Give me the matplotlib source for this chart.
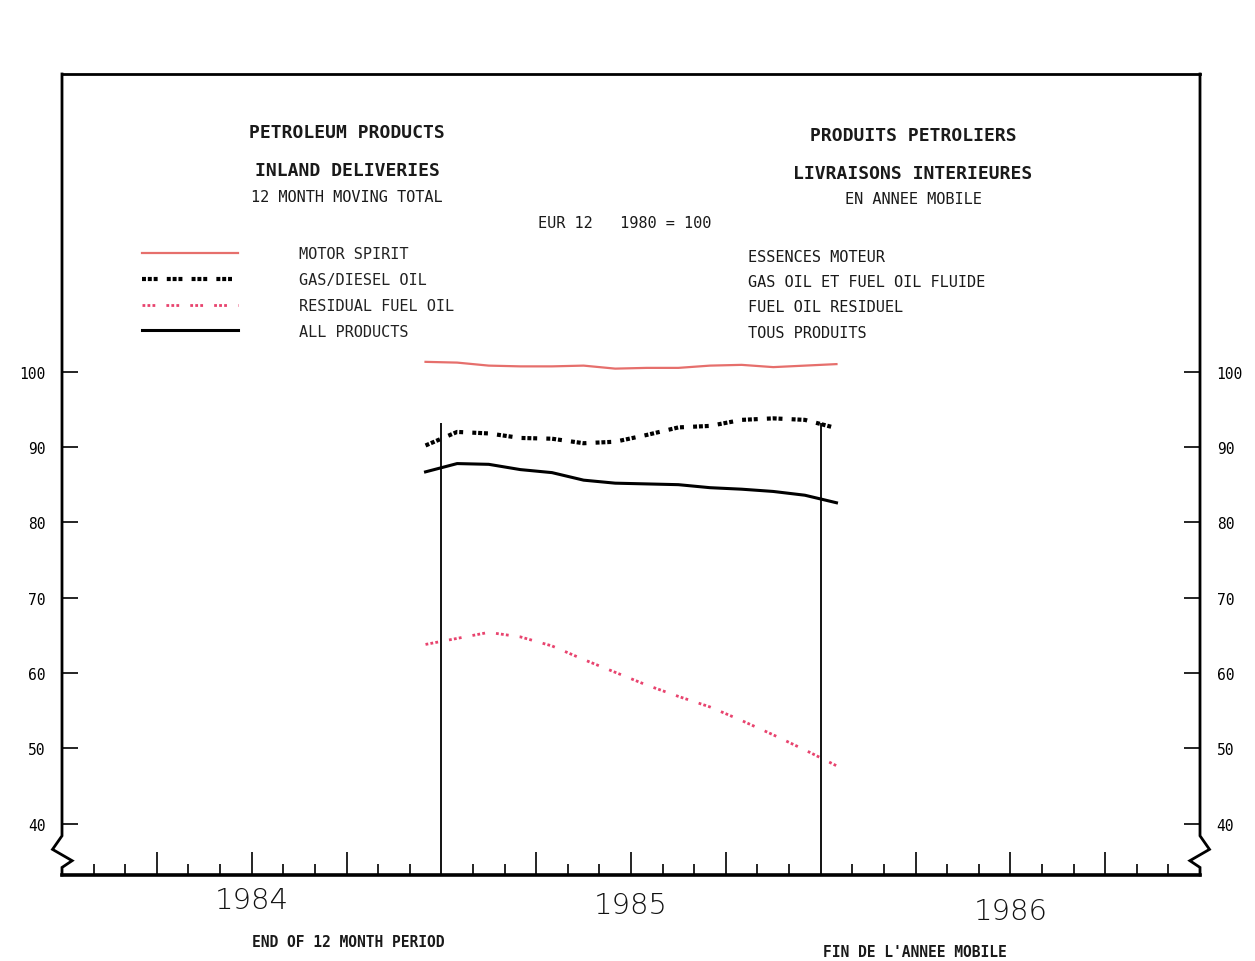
import matplotlib
matplotlib.use("Agg")
import matplotlib.pyplot as plt
import matplotlib.transforms as mtransforms
import numpy as np

# months counted from January 1984 (0 = start of 1984), points sit mid-month
months = np.arange(11.5, 25.5, 1.0)

motor_spirit = [101.3, 101.2, 100.8, 100.7, 100.7, 100.8, 100.4,
                100.5, 100.5, 100.8, 100.9, 100.6, 100.8, 101.0]
gas_diesel = [90.2, 92.0, 91.8, 91.2, 91.1, 90.5, 90.7,
              91.6, 92.6, 92.8, 93.6, 93.8, 93.6, 92.5]
residual = [63.8, 64.6, 65.4, 64.8, 63.6, 61.8, 60.1,
            58.4, 56.9, 55.5, 53.7, 51.8, 49.8, 47.7]
all_products = [86.7, 87.8, 87.7, 87.0, 86.6, 85.6, 85.2,
                85.1, 85.0, 84.6, 84.4, 84.1, 83.6, 82.6]

labels_en = ["MOTOR SPIRIT", "GAS/DIESEL OIL", "RESIDUAL FUEL OIL", "ALL PRODUCTS"]
labels_fr = ["ESSENCES MOTEUR", "GAS OIL ET FUEL OIL FLUIDE",
             "FUEL OIL RESIDUEL", "TOUS PRODUITS"]
years = ["1984", "1985", "1986"]
y_ticks = [40, 50, 60, 70, 80, 90, 100]

MONO = "DejaVu Sans Mono"
W, H = 1255, 962

fig = plt.figure(figsize=(W / 100, H / 100), dpi=100)
fig.patch.set_facecolor("white")
ax = fig.add_axes([62 / W, 1 - 876 / H, 1138 / W, 801 / H])
ymin, ymax = 33.2, 139.5
ax.set_xlim(0, 36)
ax.set_ylim(ymin, ymax)
ax.set_facecolor("none")

# series
ax.plot(months, motor_spirit, color="#e66f6c", lw=1.6, label=labels_en[0])
ax.plot(months, gas_diesel, color="black", lw=3.0, solid_capstyle="butt",
        dash_capstyle="butt", linestyle=(0, (0.95, 0.45, 0.95, 0.45, 0.95, 2.2)),
        label=labels_en[1])
ax.plot(months, residual, color="#e8436e", lw=2.0, dash_capstyle="butt",
        linestyle=(0, (1.0, 0.8, 1.0, 0.8, 1.0, 4.0)), label=labels_en[2])
ax.plot(months, all_products, color="black", lw=2.2, label=labels_en[3])

# year boundaries
ax.vlines([12, 24], ymin, 93.2, color="black", lw=1.3)

# frame drawn by hand (with the axis-break zigzags)
for s in ["left", "right", "bottom"]:
    ax.spines[s].set_visible(False)
ax.spines["top"].set_linewidth(2.0)
ax.axhline(ymin, color="black", lw=2.6, clip_on=False)
zx = np.array([0, 0, -0.3, 0.32, 0, 0])
zy = np.array([ymax, 38.4, 36.6, 35.1, 34.2, ymin])
ax.plot(zx, zy, color="black", lw=2.0, clip_on=False, solid_joinstyle="miter")
ax.plot(36 - zx, zy, color="black", lw=2.0, clip_on=False, solid_joinstyle="miter")

# y ticks on both sides, pointing in
ax.set_yticks(y_ticks)
ax.set_yticklabels([str(v) for v in y_ticks], fontfamily=MONO, fontsize=10.5)
ax.tick_params(axis="y", direction="in", length=11.5, width=1.2,
               left=True, right=True, labelleft=True, labelright=True, pad=12)

# x ticks: monthly minor, quarterly major, no labels
ax.set_xticks([3, 6, 9, 15, 18, 21, 27, 30, 33])
ax.set_xticks([m for m in range(1, 36) if m % 3 != 0], minor=True)
ax.tick_params(axis="x", which="major", direction="in", length=16.5, width=1.2,
               labelbottom=False, top=False)
ax.tick_params(axis="x", which="minor", direction="in", length=8, width=1.2, top=False)

trans = mtransforms.blended_transform_factory(ax.transData, ax.transAxes)
for i, yr in enumerate(years):
    ax.text(6 + 12 * i, -0.031 - 0.007 * i, yr, transform=trans, ha="center",
            va="center", fontsize=21, fontweight="light", color="#111111")

# legend
leg = ax.legend(loc="upper left", bbox_to_anchor=(0.0703, 0.785), frameon=False,
                borderpad=0, borderaxespad=0, handlelength=6.3, handletextpad=4.0,
                labelspacing=0.71, prop={"family": MONO, "size": 11})
for t in leg.get_texts():
    t.set_color("#222222")

# titles and labels
def ftext(x, y, s, **kw):
    kw.setdefault("family", MONO)
    kw.setdefault("color", "#1a1a1a")
    fig.text(x / W, 1 - y / H, s, ha=kw.pop("ha", "center"), va="center", **kw)

ftext(347, 133, "PETROLEUM PRODUCTS", fontsize=13, fontweight="bold")
ftext(347, 171, "INLAND DELIVERIES", fontsize=13, fontweight="bold")
ftext(347, 198, "12 MONTH MOVING TOTAL", fontsize=11)
ftext(913, 136, "PRODUITS PETROLIERS", fontsize=13, fontweight="bold")
ftext(913, 174, "LIVRAISONS INTERIEURES", fontsize=13, fontweight="bold")
ftext(913, 200, "EN ANNEE MOBILE", fontsize=11)
ftext(625, 224, "EUR 12   1980 = 100", fontsize=11)

for lab, yy in zip(labels_fr, [257, 283, 308, 334]):
    ftext(748, yy, lab, fontsize=11, ha="left")

ftext(348, 943, "END OF 12 MONTH PERIOD", fontsize=10.5, fontweight="bold")
ftext(915, 953, "FIN DE L'ANNEE MOBILE", fontsize=10.5, fontweight="bold")

fig.savefig("out.png", dpi=100)
